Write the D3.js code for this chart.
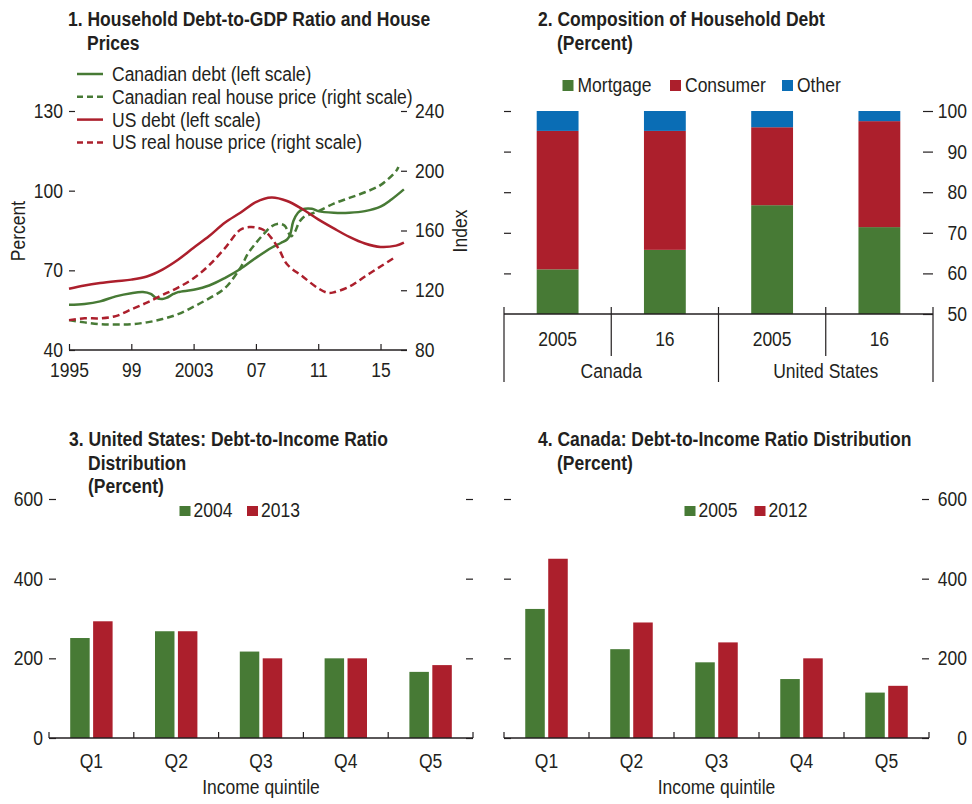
<!DOCTYPE html>
<html>
<head>
<meta charset="utf-8">
<script src="https://cdn.jsdelivr.net/npm/d3@7"></script>
<style>
  body { margin: 0; background: #fff; }
  svg text { font-family: "Liberation Sans Narrow", "Liberation Sans", Arial, sans-serif; fill: #231f20; font-size: 20px; }
  svg text.title { font-weight: bold; }
</style>
</head>
<body>
<svg id="chart" width="972" height="804"></svg>
<script>
// Panel 1: debt (left scale, percent of GDP) and real house prices (right scale, index)
var canDebtYears = [1995, 1996, 1997, 1998, 1999, 1999.75, 2000.25, 2000.6, 2001, 2001.25, 2001.7, 2002, 2003, 2004, 2005, 2006, 2007, 2008, 2008.6, 2009, 2009.2, 2009.4, 2009.7, 2010, 2010.6, 2011, 2012, 2013, 2014, 2015, 2015.7, 2016.5];
var canDebt = [57.0, 57.3, 58.3, 60.2, 61.4, 61.8, 61.1, 59.6, 59.2, 59.6, 61.1, 61.8, 62.7, 64.3, 67.1, 70.5, 74.7, 78.5, 80.3, 81.6, 83.5, 88.5, 91.7, 93.0, 93.2, 92.3, 91.7, 91.7, 92.3, 94.0, 96.7, 100.5];

var canPriceYears = [1995, 1996, 1997, 1998, 1999, 2000, 2001, 2002, 2003, 2004, 2005, 2006, 2006.5, 2007, 2007.5, 2008, 2008.5, 2008.85, 2009.1, 2009.25, 2009.5, 2009.75, 2010, 2010.5, 2011, 2012, 2013, 2014, 2015, 2016, 2016.15];
var canPrice = [100, 98.5, 97.3, 97.1, 97.3, 98.5, 100.7, 104.0, 109.0, 114.6, 121.3, 135.0, 144.8, 151.6, 157.6, 162.8, 164.5, 163.2, 158.3, 156.1, 159.0, 165.0, 168.4, 171.0, 172.9, 178.0, 181.8, 185.6, 190.4, 199.8, 202.5];

var usDebtYears = [1995, 1996, 1997, 1998, 1999, 2000, 2001, 2002, 2003, 2004, 2005, 2006, 2007, 2008, 2009, 2010, 2011, 2012, 2013, 2014, 2015, 2016, 2016.5];
var usDebt = [63.1, 64.3, 65.2, 65.9, 66.5, 67.7, 70.3, 74.0, 78.5, 82.9, 87.9, 91.7, 95.7, 97.4, 96.1, 93.0, 89.2, 85.8, 82.6, 80.1, 78.8, 79.3, 80.4];

var usPriceYears = [1995, 1996, 1997, 1998, 1999, 2000, 2001, 2002, 2003, 2004, 2005, 2006, 2006.6, 2007, 2007.5, 2008, 2008.5, 2009, 2010, 2011, 2011.6, 2012, 2013, 2014, 2015, 2015.9];
var usPrice = [100, 101.2, 101.2, 102.7, 107.2, 111.7, 116.8, 121.8, 128.0, 136.8, 148.0, 160.5, 162.3, 162.0, 160.3, 154.9, 147.0, 137.4, 129.2, 121.3, 118.3, 118.6, 122.4, 129.2, 135.9, 141.9];

var lineLegend = ["Canadian debt (left scale)", "Canadian real house price (right scale)", "US debt (left scale)", "US real house price (right scale)"];
var yearTicks = [1995, 1999, 2003, 2007, 2011, 2015];
var yearLabels = ["1995", "99", "2003", "07", "11", "15"];
var percentTicks = [40, 70, 100, 130];
var indexTicks = [80, 120, 160, 200, 240];

// Panel 2: composition of household debt (percent)
var compBars = ["2005", "16", "2005", "16"];
var compGroups = ["Canada", "United States"];
var compKeys = ["Mortgage", "Consumer", "Other"];
var mortgage = [61.0, 65.8, 76.8, 71.4];
var consumer = [34.1, 29.3, 19.2, 26.1];
var other = [4.9, 4.9, 4.0, 2.5];
var compTicks = [50, 60, 70, 80, 90, 100];

// Panels 3 and 4: debt-to-income by income quintile (percent)
var quintiles = ["Q1", "Q2", "Q3", "Q4", "Q5"];
var usYears = ["2004", "2013"];
var us2004 = [251, 268, 217, 200, 166];
var us2013 = [293, 268, 200, 200, 183];
var caYears = ["2005", "2012"];
var ca2005 = [324, 223, 190, 148, 114];
var ca2012 = [450, 290, 240, 200, 131];
var dtiTicks = [0, 200, 400, 600];

var green = "#477a35", red = "#ac1f2c", blue = "#0a6db5", ink = "#231f20";

var svg = d3.select("#chart");

// Two or three line bold title, later lines indented
function addTitle(x, y, lines) {
  var t = svg.append("text").attr("class", "title");
  lines.forEach(function (s, i) {
    t.append("tspan").attr("x", i === 0 ? x : x + 19).attr("y", y + i * 23.5).text(s);
  });
}

function cleanAxis(g) {
  g.attr("font-family", null).attr("font-size", null);
  g.select(".domain").remove();
  g.selectAll(".tick line").attr("stroke", ink).attr("stroke-width", 1.2);
  g.selectAll(".tick text").attr("fill", ink);
}

// ---------------- Panel 1 ----------------
addTitle(68, 26, ["1. Household Debt-to-GDP Ratio and House", "Prices"]);

var x1 = d3.scaleLinear().domain([1995, 2016.7]).range([69, 407]);
var yLeft = d3.scaleLinear().domain([40, 130]).range([350, 111]);
var yRight = d3.scaleLinear().domain([80, 240]).range([350, 111]);

var p1 = svg.append("g");

var xAxis1 = p1.append("g").attr("transform", "translate(0,350)")
  .call(d3.axisBottom(x1).tickValues(yearTicks)
    .tickFormat(function (d, i) { return yearLabels[i]; })
    .tickSize(-6).tickSizeOuter(0).tickPadding(13));
cleanAxis(xAxis1);
xAxis1.append("line").attr("x1", x1.range()[0]).attr("x2", x1.range()[1])
  .attr("stroke", ink).attr("stroke-width", 1.5);

var yAxisL = p1.append("g").attr("transform", "translate(69,0)")
  .call(d3.axisLeft(yLeft).tickValues(percentTicks).tickSize(-6).tickPadding(6));
cleanAxis(yAxisL);

var yAxisR = p1.append("g").attr("transform", "translate(407,0)")
  .call(d3.axisRight(yRight).tickValues(indexTicks).tickSize(-6).tickPadding(8));
cleanAxis(yAxisR);

p1.append("text").attr("transform", "translate(25,231) rotate(-90)")
  .attr("text-anchor", "middle").text("Percent");
p1.append("text").attr("transform", "translate(467,231) rotate(-90)")
  .attr("text-anchor", "middle").text("Index");

var series1 = [
  { years: canDebtYears, values: canDebt, color: green, dash: null, scale: yLeft },
  { years: canPriceYears, values: canPrice, color: green, dash: "7,4", scale: yRight },
  { years: usDebtYears, values: usDebt, color: red, dash: null, scale: yLeft },
  { years: usPriceYears, values: usPrice, color: red, dash: "7,4", scale: yRight }
];

series1.forEach(function (s) {
  var pts = s.years.map(function (yr, i) { return { year: yr, v: s.values[i] }; });
  var line = d3.line()
    .x(function (d) { return x1(d.year); })
    .y(function (d) { return s.scale(d.v); })
    .curve(d3.curveCatmullRom.alpha(0.5));
  p1.append("path").datum(pts)
    .attr("fill", "none")
    .attr("stroke", s.color)
    .attr("stroke-width", 2.5)
    .attr("stroke-dasharray", s.dash)
    .attr("d", line);
});

// legend
lineLegend.forEach(function (label, i) {
  var cy = 74 + i * 22.8;
  p1.append("line").attr("x1", 77).attr("x2", 103).attr("y1", cy).attr("y2", cy)
    .attr("stroke", series1[i].color).attr("stroke-width", 2.5)
    .attr("stroke-dasharray", series1[i].dash ? "6,4" : null);
  p1.append("text").attr("x", 112).attr("y", cy + 7).text(label);
});

// ---------------- Panel 2 ----------------
addTitle(538, 26, ["2. Composition of Household Debt", "(Percent)"]);

var p2 = svg.append("g");
var x2 = d3.scaleBand().domain(d3.range(compBars.length)).range([504, 933])
  .paddingInner(0.61).paddingOuter(0.305);
var y2 = d3.scaleLinear().domain([50, 100]).range([314, 111]).clamp(true);
var compColors = d3.scaleOrdinal().domain(compKeys).range([green, red, blue]);

var compRows = compBars.map(function (b, i) {
  return { i: i, Mortgage: mortgage[i], Consumer: consumer[i], Other: other[i] };
});
var stacked = d3.stack().keys(compKeys)(compRows);

p2.selectAll("g.layer").data(stacked).enter().append("g")
  .attr("class", "layer")
  .attr("fill", function (d) { return compColors(d.key); })
  .selectAll("rect").data(function (d) { return d; }).enter().append("rect")
  .attr("x", function (d) { return x2(d.data.i); })
  .attr("width", x2.bandwidth())
  .attr("y", function (d) { return y2(d[1]); })
  .attr("height", function (d) { return y2(d[0]) - y2(d[1]); });

var yAxis2L = p2.append("g").attr("transform", "translate(504,0)")
  .call(d3.axisLeft(y2).tickValues(compTicks.slice(1)).tickSize(-7).tickFormat(""));
cleanAxis(yAxis2L);
var yAxis2R = p2.append("g").attr("transform", "translate(933,0)")
  .call(d3.axisRight(y2).tickValues(compTicks).tickSize(-10));
cleanAxis(yAxis2R);
yAxis2R.selectAll(".tick text").attr("x", 34).attr("text-anchor", "end");

// category axis with group separators
p2.append("line").attr("x1", 504).attr("x2", 933).attr("y1", 314).attr("y2", 314)
  .attr("stroke", ink).attr("stroke-width", 1.5);
d3.range(compBars.length + 1).forEach(function (k) {
  var xs = x2.range()[0] + k * x2.step();
  p2.append("line").attr("x1", xs).attr("x2", xs).attr("y1", 307)
    .attr("y2", k % 2 === 0 ? 382 : 356)
    .attr("stroke", ink).attr("stroke-width", 1.2);
});
compBars.forEach(function (b, i) {
  p2.append("text").attr("x", x2(i) + x2.bandwidth() / 2).attr("y", 346)
    .attr("text-anchor", "middle").text(b);
});
compGroups.forEach(function (g, j) {
  var xm = x2.range()[0] + (2 * j + 1) * x2.step();
  p2.append("text").attr("x", xm).attr("y", 378).attr("text-anchor", "middle").text(g);
});

// legend
var compLegendX = [562.5, 670, 782];
compKeys.forEach(function (k, i) {
  p2.append("rect").attr("x", compLegendX[i]).attr("y", 80).attr("width", 11).attr("height", 11)
    .attr("fill", compColors(k));
  p2.append("text").attr("x", compLegendX[i] + 15).attr("y", 92).text(k);
});

// ---------------- Panels 3 and 4 ----------------
function drawDTI(opt) {
  var g = svg.append("g");
  addTitle(opt.titleX, 446, opt.title);

  var x0 = d3.scaleBand().domain(quintiles).range([opt.left, opt.right])
    .paddingInner(0.5).paddingOuter(0.25);
  var xs = d3.scaleBand().domain(opt.years).range([0, x0.bandwidth()]).paddingInner(0.15);
  var y = d3.scaleLinear().domain([0, 600]).range([738, 499]);
  var colors = [green, red];

  opt.years.forEach(function (yr, k) {
    g.selectAll("rect.s" + k).data(opt.values[k]).enter().append("rect")
      .attr("class", "s" + k)
      .attr("x", function (d, i) { return x0(quintiles[i]) + xs(yr); })
      .attr("width", xs.bandwidth())
      .attr("y", function (d) { return y(d); })
      .attr("height", function (d) { return y(0) - y(d); })
      .attr("fill", colors[k]);
  });

  var aL = g.append("g").attr("transform", "translate(" + opt.left + ",0)")
    .call(d3.axisLeft(y).tickValues(dtiTicks).tickSize(-7).tickPadding(6));
  cleanAxis(aL);
  var aR = g.append("g").attr("transform", "translate(" + opt.right + ",0)")
    .call(d3.axisRight(y).tickValues(dtiTicks).tickSize(-7));
  cleanAxis(aR);
  if (opt.labelSide === "left") {
    aR.selectAll(".tick text").remove();
  } else {
    aL.selectAll(".tick text").remove();
    aR.selectAll(".tick text").attr("x", 967 - opt.right).attr("text-anchor", "end");
  }

  // x axis with ticks between quintiles
  g.append("line").attr("x1", opt.left).attr("x2", opt.right).attr("y1", 738).attr("y2", 738)
    .attr("stroke", ink).attr("stroke-width", 1.5);
  d3.range(quintiles.length + 1).forEach(function (k) {
    var xt = opt.left + k * x0.step();
    g.append("line").attr("x1", xt).attr("x2", xt).attr("y1", 732).attr("y2", 738)
      .attr("stroke", ink).attr("stroke-width", 1.2);
  });
  quintiles.forEach(function (q) {
    g.append("text").attr("x", x0(q) + x0.bandwidth() / 2).attr("y", 768)
      .attr("text-anchor", "middle").text(q);
  });
  g.append("text").attr("x", (opt.left + opt.right) / 2).attr("y", 794)
    .attr("text-anchor", "middle").text("Income quintile");

  // legend
  opt.years.forEach(function (yr, k) {
    g.append("rect").attr("x", opt.legendX[k]).attr("y", 506).attr("width", 11).attr("height", 10)
      .attr("fill", colors[k]);
    g.append("text").attr("x", opt.legendX[k] + 14).attr("y", 517).text(yr);
  });
}

drawDTI({
  title: ["3. United States: Debt-to-Income Ratio", "Distribution", "(Percent)"],
  titleX: 69, left: 49, right: 473, years: usYears, values: [us2004, us2013],
  labelSide: "left", legendX: [179.5, 247]
});
drawDTI({
  title: ["4. Canada: Debt-to-Income Ratio Distribution", "(Percent)"],
  titleX: 538, left: 504, right: 929, years: caYears, values: [ca2005, ca2012],
  labelSide: "right", legendX: [684.5, 754.5]
});

// No narrow face is installed, so squeeze the glyphs to a condensed width
function condense(sel, k) {
  sel.each(function () {
    var w = this.getComputedTextLength();
    if (w > 0) {
      d3.select(this).attr("textLength", w * k).attr("lengthAdjust", "spacingAndGlyphs");
    }
  });
}
condense(svg.selectAll("text:not(.title)"), 0.875);
condense(svg.selectAll("text.title tspan"), 0.875);
</script>
</body>
</html>
